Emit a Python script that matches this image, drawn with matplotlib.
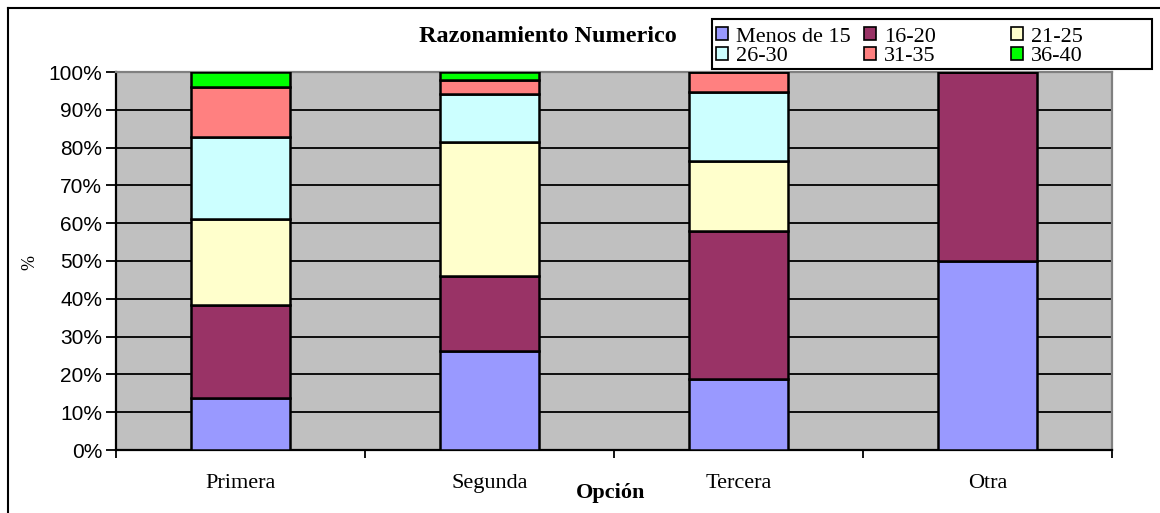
import matplotlib.pyplot as plt
import numpy as np
from matplotlib.lines import Line2D
from matplotlib.patches import Patch, Rectangle

# data (percent per age group)
opciones = ['Primera', 'Segunda', 'Tercera', 'Otra']
grupos = ['Menos de 15', '16-20', '21-25', '26-30', '31-35', '36-40']
menos15 = [13.8, 26.2, 18.8, 50.0]
g16_20 = [24.5, 19.9, 39.1, 50.0]
g21_25 = [22.8, 35.5, 18.6, 0.0]
g26_30 = [21.6, 12.6, 18.3, 0.0]
g31_35 = [13.2, 3.7, 5.2, 0.0]
g36_40 = [4.1, 2.1, 0.0, 0.0]
colores = ['#9999FF', '#993366', '#FFFFCC', '#CCFFFF', '#FF8080', '#00FF00']

series = [menos15, g16_20, g21_25, g26_30, g31_35, g36_40]

W, H = 1160, 513
fig = plt.figure(figsize=(W / 100, H / 100), dpi=100)
ax = fig.add_axes([116 / W, 1 - 450 / H, 996 / W, 378 / H])
ax.set_facecolor('#C0C0C0')

x = np.arange(len(opciones))
bottom = np.zeros(len(opciones))
handles = []
for vals, lab, col in zip(series, grupos, colores):
    vals = np.array(vals)
    ax.bar(x, vals, 0.4, bottom=bottom, color=col, edgecolor='black',
           linewidth=1.8, zorder=3)
    bottom += vals
    handles.append(Patch(facecolor=col, edgecolor='black', linewidth=1.2, label=lab))

ax.set_xlim(-0.5, 3.5)
ax.set_ylim(0, 100)
ax.set_yticks(np.arange(0, 101, 10))
ax.set_yticklabels([f'{v}%' for v in range(0, 101, 10)],
                   fontfamily='Liberation Sans', fontsize=15)
ax.yaxis.grid(True, color='black', linewidth=1.3, zorder=1)
ax.set_axisbelow(True)
ax.tick_params(axis='y', length=7, width=1.3, direction='out', pad=3)

ax.set_xticks(x)
ax.set_xticklabels(opciones, fontfamily='Liberation Serif', fontsize=16)
ax.set_xticks(np.arange(-0.5, 3.6, 1), minor=True)
ax.tick_params(axis='x', which='major', length=0, pad=17)
ax.tick_params(axis='x', which='minor', length=6, width=1.3, direction='out')

for s in ['left', 'bottom']:
    ax.spines[s].set_color('black')
    ax.spines[s].set_linewidth(1.6)
for s in ['top', 'right']:
    ax.spines[s].set_color('#808080')
    ax.spines[s].set_linewidth(1.6)

fig.text(30 / W, 1 - 262 / H, '%', rotation=90, ha='center', va='center',
         fontfamily='Liberation Serif', fontsize=13)
fig.text(611 / W, 1 - 493 / H, 'Opción', ha='center', va='center',
         fontfamily='Liberation Serif', fontweight='bold', fontsize=16)
fig.text(548 / W, 1 - 37 / H, 'Razonamiento Numerico', ha='center', va='center',
         fontfamily='Liberation Serif', fontweight='bold', fontsize=17.5)

# legend: three equal-width columns inside one frame
fig.add_artist(Rectangle((712 / W, 1 - 69 / H), 440 / W, 50 / H,
                         transform=fig.transFigure, facecolor='white',
                         edgecolor='black', linewidth=1.5, zorder=5))
col_x = [716, 864, 1011]
for c in range(3):
    idx = [c, c + 3]
    leg = fig.legend([handles[i] for i in idx], [grupos[i] for i in idx],
                     loc='upper left', bbox_to_anchor=(col_x[c] / W, 1 - 27 / H),
                     prop={'family': 'Liberation Serif', 'size': 16},
                     frameon=False, handlelength=0.55, handleheight=0.55,
                     handletextpad=0.35, borderpad=0.0, labelspacing=0.0,
                     borderaxespad=0)
    leg.set_zorder(6)

# outer chart border
fig.add_artist(Line2D([8 / W, 1], [1 - 8 / H, 1 - 8 / H], color='black',
                      linewidth=1.5, transform=fig.transFigure))
fig.add_artist(Line2D([8 / W, 8 / W], [0, 1 - 8 / H], color='black',
                      linewidth=1.5, transform=fig.transFigure))

fig.savefig('out.png', dpi=100)
